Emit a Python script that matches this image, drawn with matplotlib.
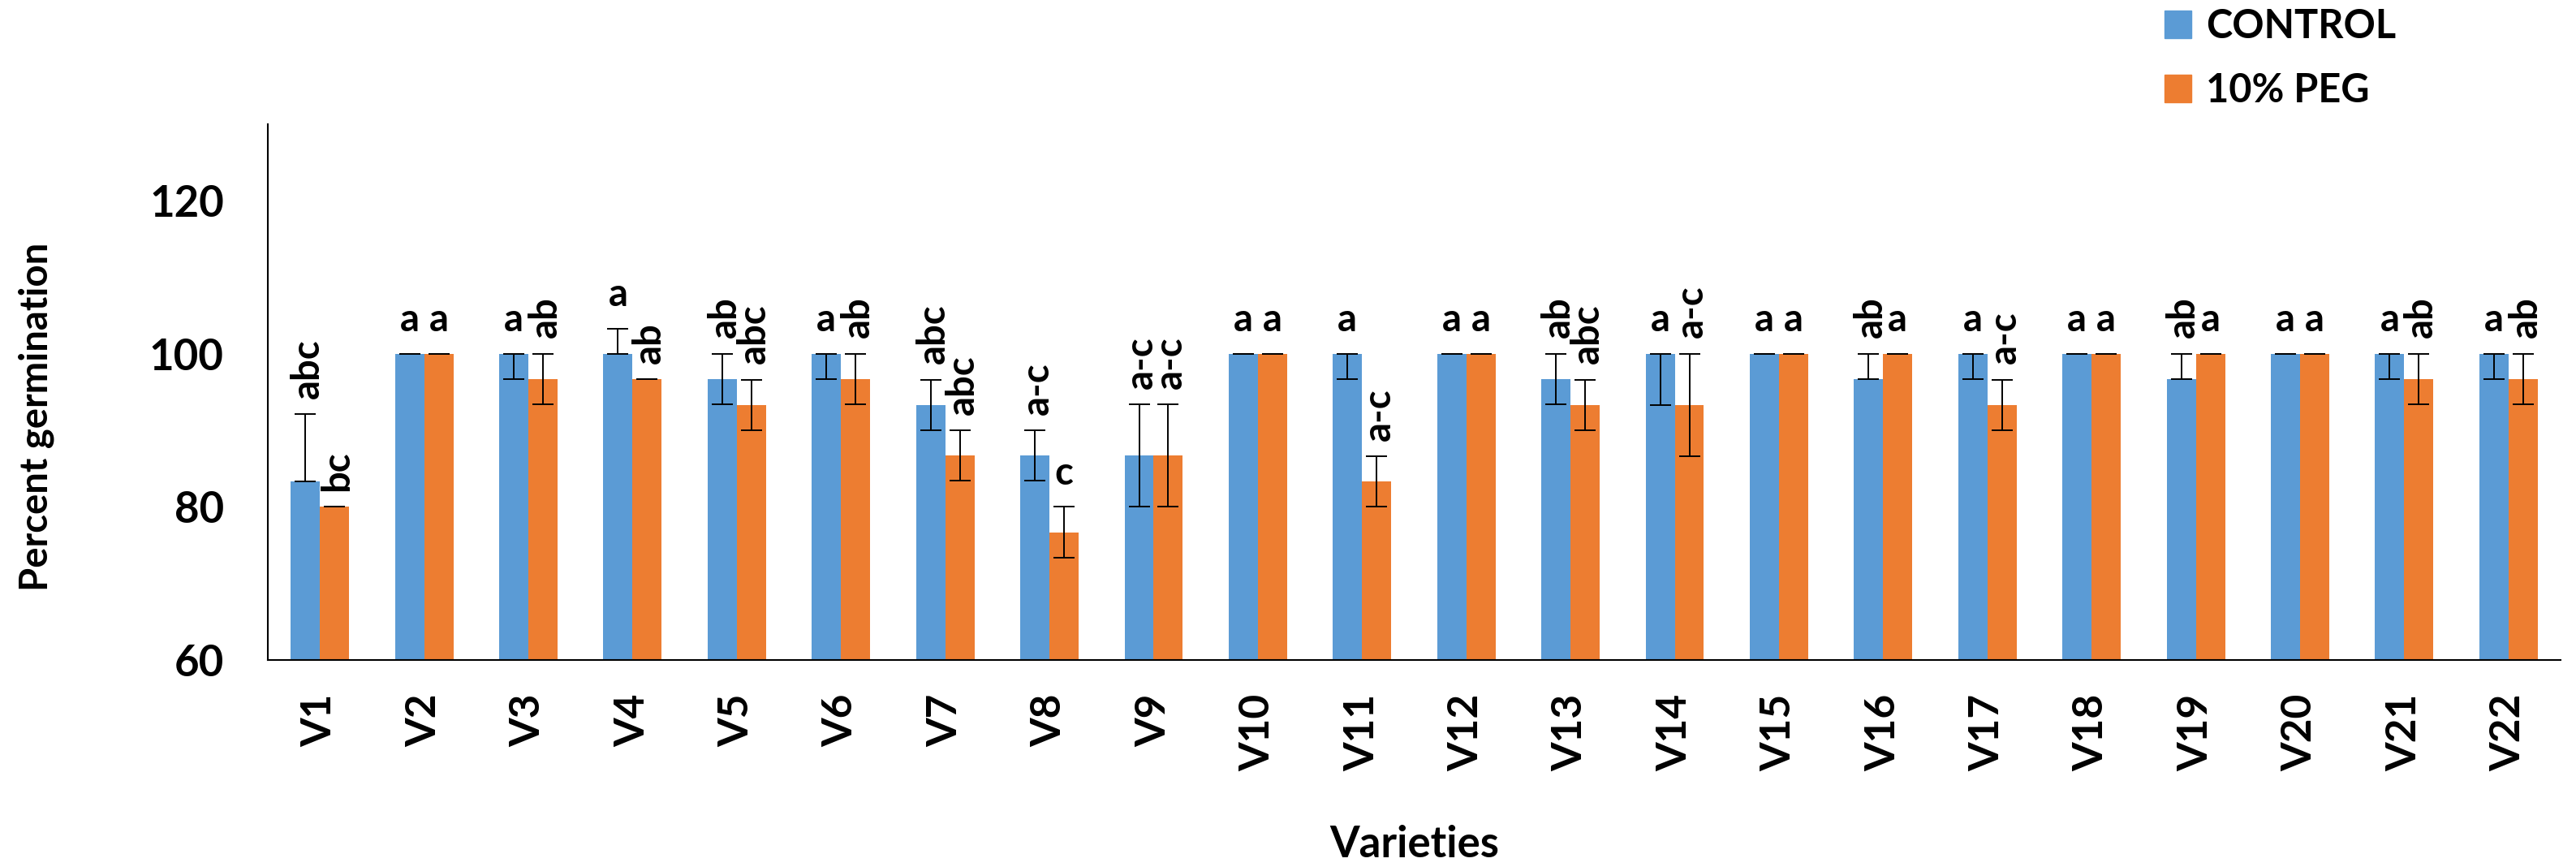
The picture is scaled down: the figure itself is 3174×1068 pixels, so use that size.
import numpy as np
import matplotlib.pyplot as plt
from matplotlib.patches import Patch

varieties = ['V' + str(i) for i in range(1, 23)]

control = [83.3, 100, 100, 100, 96.7, 100, 93.3, 86.7, 86.7, 100, 100,
           100, 96.7, 100, 100, 96.7, 100, 100, 96.7, 100, 100, 100]
control_lo = [0, 0, 3.3, 0, 3.3, 3.3, 3.3, 3.3, 6.7, 0, 3.3,
              0, 3.3, 6.7, 0, 0, 3.3, 0, 0, 0, 3.3, 3.3]
control_hi = [8.8, 0, 0, 3.3, 3.3, 0, 3.3, 3.3, 6.7, 0, 0,
              0, 3.3, 0, 0, 3.3, 0, 0, 3.3, 0, 0, 0]
control_letters = ['abc', 'a', 'a', 'a', 'ab', 'a', 'abc', 'a-c', 'a-c', 'a', 'a',
                   'a', 'ab', 'a', 'a', 'ab', 'a', 'a', 'ab', 'a', 'a', 'a']

peg = [80, 100, 96.7, 96.7, 93.3, 96.7, 86.7, 76.7, 86.7, 100, 83.3,
       100, 93.3, 93.3, 100, 100, 93.3, 100, 100, 100, 96.7, 96.7]
peg_err = [0, 0, 3.3, 0, 3.3, 3.3, 3.3, 3.3, 6.7, 0, 3.3,
           0, 3.3, 6.7, 0, 0, 3.3, 0, 0, 0, 3.3, 3.3]
peg_letters = ['bc', 'a', 'ab', 'ab', 'abc', 'ab', 'abc', 'c', 'a-c', 'a', 'a-c',
               'a', 'abc', 'a-c', 'a', 'a', 'a-c', 'a', 'a', 'a', 'ab', 'ab']

blue = '#5B9BD5'
orange = '#ED7D31'
plt.rcParams['font.family'] = ['Lato', 'DejaVu Sans']
plt.rcParams['font.weight'] = 'bold'

fig = plt.figure(figsize=(31.74, 10.68), dpi=100)
ax = fig.add_axes([330/3174, 1 - 813/1068, (3155-330)/3174, (813-153)/1068])

x = np.arange(len(varieties))
w = 0.28
ax.bar(x - w/2, control, w, color=blue)
ax.bar(x + w/2, peg, w, color=orange)
# caps are drawn at 2*capsize points wide
ekw = dict(fmt='none', ecolor='black', elinewidth=1.4, capsize=9.5, capthick=1.4)
ax.errorbar(x - w/2, control, yerr=[control_lo, control_hi], **ekw)
ax.errorbar(x + w/2, peg, yerr=[peg_err, peg_err], **ekw)

def put_letters(xs, vals, tops, letters):
    for xi, v, t, s in zip(xs, vals, tops, letters):
        if len(s) > 1:
            rot, dx = 90, 2
        else:
            rot, dx = 0, 0
        ax.annotate(s, (xi, v + t), xytext=(dx, 14), textcoords='offset points',
                    ha='center', va='bottom', rotation=rot, fontsize=34,
                    fontweight='bold', annotation_clip=False)

put_letters(x - w/2, control, control_hi, control_letters)
put_letters(x + w/2, peg, peg_err, peg_letters)

ax.set_xlim(-0.5, len(varieties) - 0.5)
ax.set_ylim(60, 130)
ax.set_yticks([60, 80, 100, 120])
ax.set_xticks(x)
ax.set_xticklabels(varieties, rotation=90, fontsize=37, fontweight='bold')
ax.tick_params(axis='y', length=0, pad=39, labelsize=38)
ax.tick_params(axis='x', length=0, pad=30)
for sp in ['top', 'right']:
    ax.spines[sp].set_visible(False)
for sp in ['left', 'bottom']:
    ax.spines[sp].set_linewidth(1.5)

fig.text(45/3174, 1 - 513/1068, 'Percent germination', rotation=90,
         ha='center', va='center', fontsize=34, fontweight='bold')
fig.text((330 + 3155)/2/3174, 1 - 1041/1068, 'Varieties',
         ha='center', va='center', fontsize=38, fontweight='bold')

handles = [Patch(color=blue), Patch(color=orange)]
fig.legend(handles, ['CONTROL', '10% PEG'], loc='upper left',
           bbox_to_anchor=(2667/3174, 1 - 10/1068), frameon=False,
           fontsize=35, handlelength=0.68, handleheight=0.68,
           handletextpad=0.37, labelspacing=0.7, borderpad=0, borderaxespad=0)

fig.savefig('out.png', dpi=100)
